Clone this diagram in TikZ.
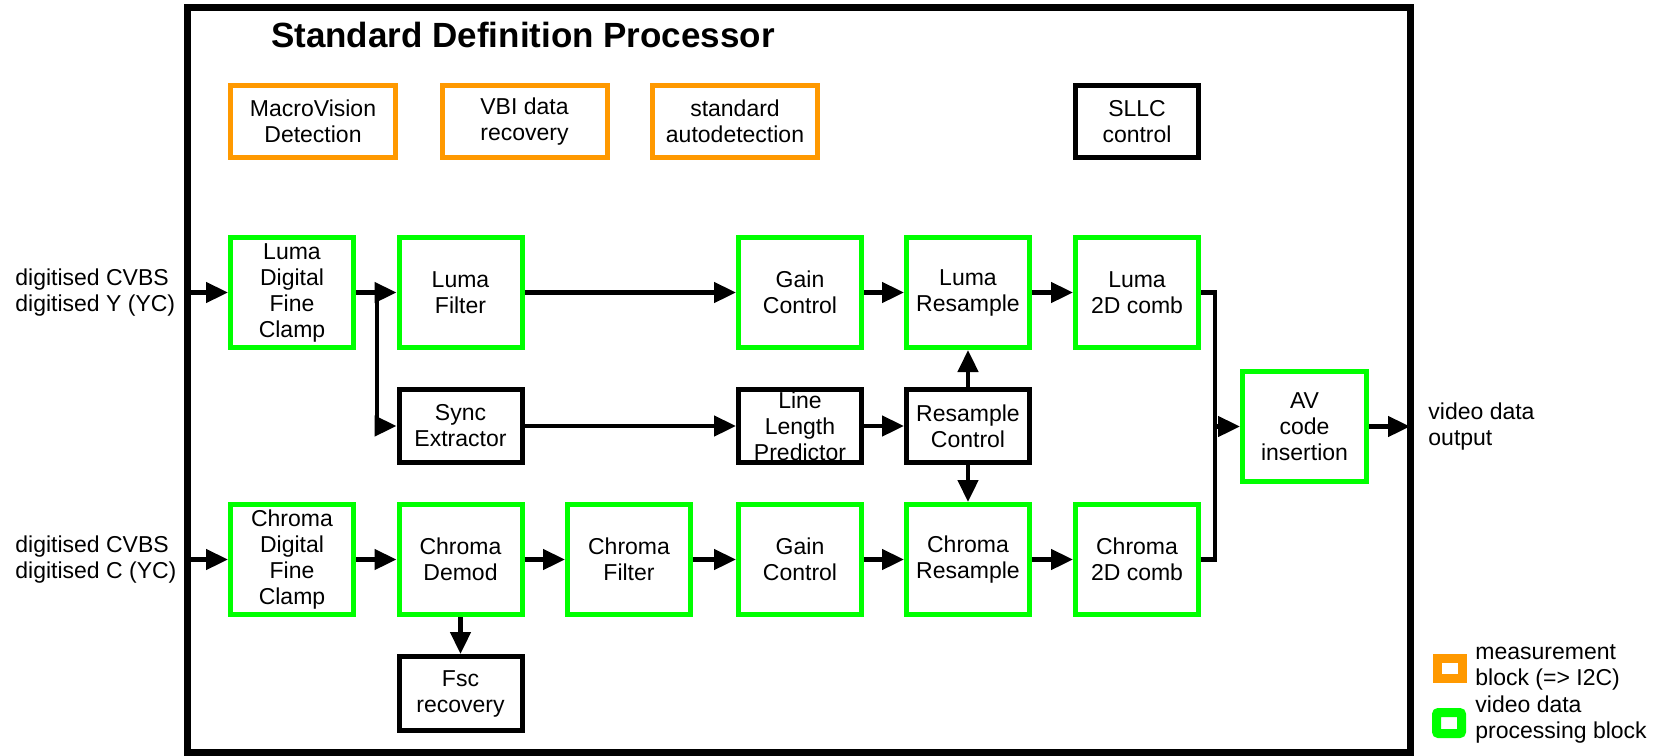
\documentclass[tikz,border=0pt]{standalone}
\usepackage{fontspec}
\setmainfont{Liberation Sans}
\usetikzlibrary{arrows.meta}
\definecolor{vgreen}{RGB}{0,255,0}
\definecolor{morange}{RGB}{255,153,0}
\begin{document}
\begin{tikzpicture}[x=0.5pt,y=-0.5pt,
  every node/.style={font=\fontsize{11.5pt}{13pt}\selectfont, align=center, inner sep=0pt},
  blk/.style={draw, line width=2.5pt, minimum width=61.5pt, minimum height=55pt},
  vid/.style={blk, draw=vgreen},
  ctl/.style={blk, draw=black},
  rowbox/.style={minimum height=36.5pt},
  meas/.style={draw=morange, line width=2.5pt, minimum width=82.5pt, minimum height=36pt},
  arr/.style={line width=2.3pt, -{Triangle[length=11pt,width=10pt]}},
  ln/.style={line width=2.3pt},
  txt/.style={anchor=west, align=left}]
\useasboundingbox (0,0) rectangle (1663,755);
\draw[line width=3.5pt] (187,7.5) rectangle (1410,752);

\node[font=\bfseries\fontsize{17.5pt}{20pt}\selectfont] (title) at (523,35) {Standard Definition Processor};

% measurement blocks
\node[meas] (mv) at (313,121.5) {MacroVision\\Detection};
\node[meas] (vbi) at (524.5,121.5) {VBI data\\recovery};
\node[meas] (std) at (735,121.5) {standard\\autodetection};
\node[ctl, minimum height=36pt] (sllc) at (1137,121.5) {SLLC\\control};

% luma row
\node[vid] (lclamp) at (292,292.5) {Luma\\Digital\\Fine\\Clamp};
\node[vid] (lfilt) at (460.5,292.5) {Luma\\Filter};
\node[vid] (lgain) at (800,292.5) {Gain\\Control};
\node[vid] (lres) at (968,292.5) {Luma\\Resample};
\node[vid] (l2d) at (1137,292.5) {Luma\\2D comb};

% sync row
\node[ctl, rowbox] (sync) at (460.5,426) {Sync\\Extractor};
\node[ctl, rowbox] (llp) at (800,426) {Line\\Length\\Predictor};
\node[ctl, rowbox] (rctl) at (968,426) {Resample\\Control};

% chroma row
\node[vid] (cclamp) at (292,559.5) {Chroma\\Digital\\Fine\\Clamp};
\node[vid] (cdemod) at (460.5,559.5) {Chroma\\Demod};
\node[vid] (cfilt) at (629,559.5) {Chroma\\Filter};
\node[vid] (cgain) at (800,559.5) {Gain\\Control};
\node[vid] (cres) at (968,559.5) {Chroma\\Resample};
\node[vid] (c2d) at (1137,559.5) {Chroma\\2D comb};

\node[ctl, minimum height=37pt] (fsc) at (460.5,693.5) {Fsc\\recovery};
\node[vid, minimum width=62pt] (av) at (1304.5,426.5) {AV\\code\\insertion};

% connectors
\coordinate (inY) at (187,292.5);
\coordinate (inC) at (187,559.5);
\coordinate (j) at (377,292.5);
\coordinate (m) at (1215,426.5);
\coordinate (out) at (1410,426.5);

\draw[arr] (inY) -- (lclamp);
\draw[arr] (lclamp) -- (lfilt);
\draw[arr] (j) |- (sync);
\draw[arr] (lfilt) -- (lgain);
\draw[arr] (lgain) -- (lres);
\draw[arr] (lres) -- (l2d);

\draw[arr] (sync) -- (llp);
\draw[arr] (llp) -- (rctl);
\draw[arr] (rctl) -- (lres);
\draw[arr] (rctl) -- (cres);

\draw[arr] (inC) -- (cclamp);
\draw[arr] (cclamp) -- (cdemod);
\draw[arr] (cdemod) -- (cfilt);
\draw[arr] (cfilt) -- (cgain);
\draw[arr] (cgain) -- (cres);
\draw[arr] (cres) -- (c2d);
\draw[arr] (cdemod) -- (fsc);

\draw[ln] (l2d.east) -| (m);
\draw[ln] (c2d.east) -| (m);
\draw[arr] (m) -- (av);
\draw[arr] (av) -- (out);

% texts outside
\node[txt] (inYt) at (15,293) {digitised CVBS\\digitised Y (YC)};
\node[txt] (inCt) at (15,560) {digitised CVBS\\digitised C (YC)};
\node[txt] (outt) at (1428,427) {video data\\output};

% legend
\node[draw=morange, line width=4.5pt, minimum width=12.5pt, minimum height=10pt] (lgo) at (1450,668.5) {};
\node[draw=vgreen, line width=4.5pt, minimum width=12.5pt, minimum height=10.5pt, rounded corners=1pt] (lgg) at (1449,723) {};
\node[txt] (lgot) at (1475,667) {measurement\\block (=> I2C)};
\node[txt] (lggt) at (1475,720) {video data\\processing block};
\end{tikzpicture}
\end{document}
